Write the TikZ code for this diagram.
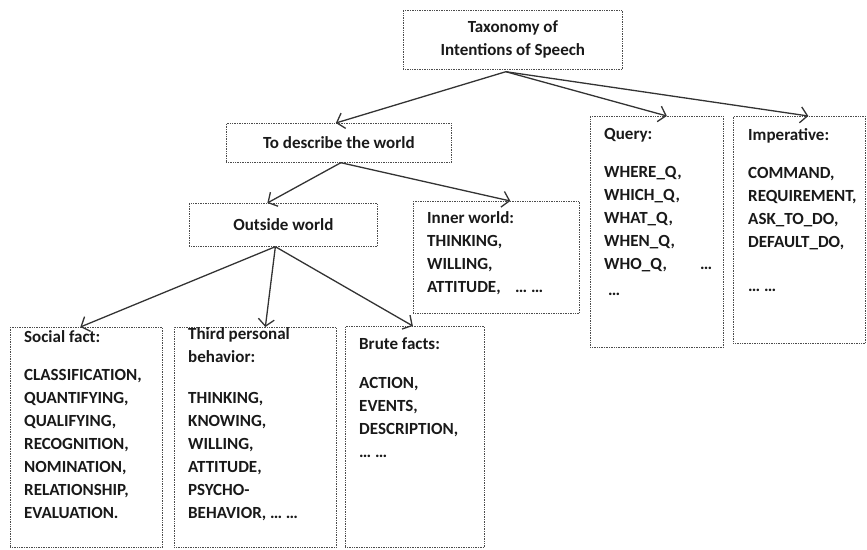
\documentclass[tikz,border=0pt]{standalone}
\usepackage{fontspec}
\setmainfont{Carlito}
\usetikzlibrary{arrows.meta}
\begin{document}
\begin{tikzpicture}[x=1pt,y=-1pt,
  box/.style={draw=black!70, densely dotted, line width=0.7pt, inner sep=0pt, anchor=north west,
    font=\fontsize{17}{23}\selectfont\bfseries, text=black!90, align=center},
  txt/.style={font=\fontsize{17}{23}\selectfont\bfseries, text=black!90, inner sep=0pt, align=left, anchor=north west},
  arr/.style={draw=black!80, line width=1.3pt, -{Straight Barb[length=7pt,width=16pt]}}]
\useasboundingbox (0,0) rectangle (867,549);
% boxes
\node[box, minimum width=219pt, minimum height=59pt] (tax) at (403,10) {Taxonomy of\\Intentions of Speech};
\node[box, minimum width=225pt, minimum height=39pt] (desc) at (226,123) {To describe the world};
\node[box, minimum width=188pt, minimum height=43pt] (out) at (189,203) {Outside world};
\node[box, minimum width=166pt, minimum height=112pt] (inner) at (413,201) {};
\node[box, minimum width=133pt, minimum height=231pt] (query) at (590,116) {};
\node[box, minimum width=132pt, minimum height=227pt] (imp) at (733,116) {};
\node[box, minimum width=152pt, minimum height=220pt] (social) at (10,327) {};
\node[box, minimum width=162pt, minimum height=220pt] (third) at (174,327) {};
\node[box, minimum width=139pt, minimum height=221pt] (brute) at (345,326) {};
% texts
\node[txt] (innert) at (427,211) {Inner world:\\THINKING,\\WILLING,\\\makebox[88pt][l]{ATTITUDE,}… …};
\node[txt] (queryt) at (604,128) {Query:\\[15pt]WHERE\_Q,\\WHICH\_Q,\\WHAT\_Q,\\WHEN\_Q,\\\makebox[96pt][l]{WHO\_Q,}…\\[3pt]\hspace*{4pt}…};
\node[txt] (impt) at (748,128) {Imperative:\\[15pt]COMMAND,\\REQUIREMENT,\\ASK\_TO\_DO,\\DEFAULT\_DO,\\[21pt]… …};
\node[txt] (socialt) at (24,330) {Social fact:\\[15pt]CLASSIFICATION,\\QUANTIFYING,\\QUALIFYING,\\RECOGNITION,\\NOMINATION,\\RELATIONSHIP,\\EVALUATION.};
\node[txt] (thirdt) at (188,327) {Third personal\\behavior:\\[18pt]THINKING,\\KNOWING,\\WILLING,\\ATTITUDE,\\PSYCHO-\\BEHAVIOR, … …};
\node[txt] (brutet) at (359,337) {Brute facts:\\[16pt]ACTION,\\EVENTS,\\DESCRIPTION,\\… …};
% arrows
\draw[arr] ([xshift=-7pt,yshift=-2pt]tax.south) -- ([xshift=-3pt]desc.north);
\draw[arr] ([xshift=-7pt,yshift=-2pt]tax.south) -- ([xshift=10pt]query.north);
\draw[arr] ([xshift=-7pt,yshift=-2pt]tax.south) -- ([xshift=9pt]imp.north);
\draw[arr] ([xshift=2pt]desc.south) -- ([xshift=-16pt]out.north);
\draw[arr] ([xshift=2pt]desc.south) -- ([xshift=14pt]inner.north);
\draw[arr] ([xshift=-8pt]out.south) -- ([xshift=-6pt]social.north);
\draw[arr] ([xshift=-8pt]out.south) -- ([xshift=10pt]third.north);
\draw[arr] ([xshift=-8pt]out.south) -- ([xshift=-2pt]brute.north);
\end{tikzpicture}
\end{document}
